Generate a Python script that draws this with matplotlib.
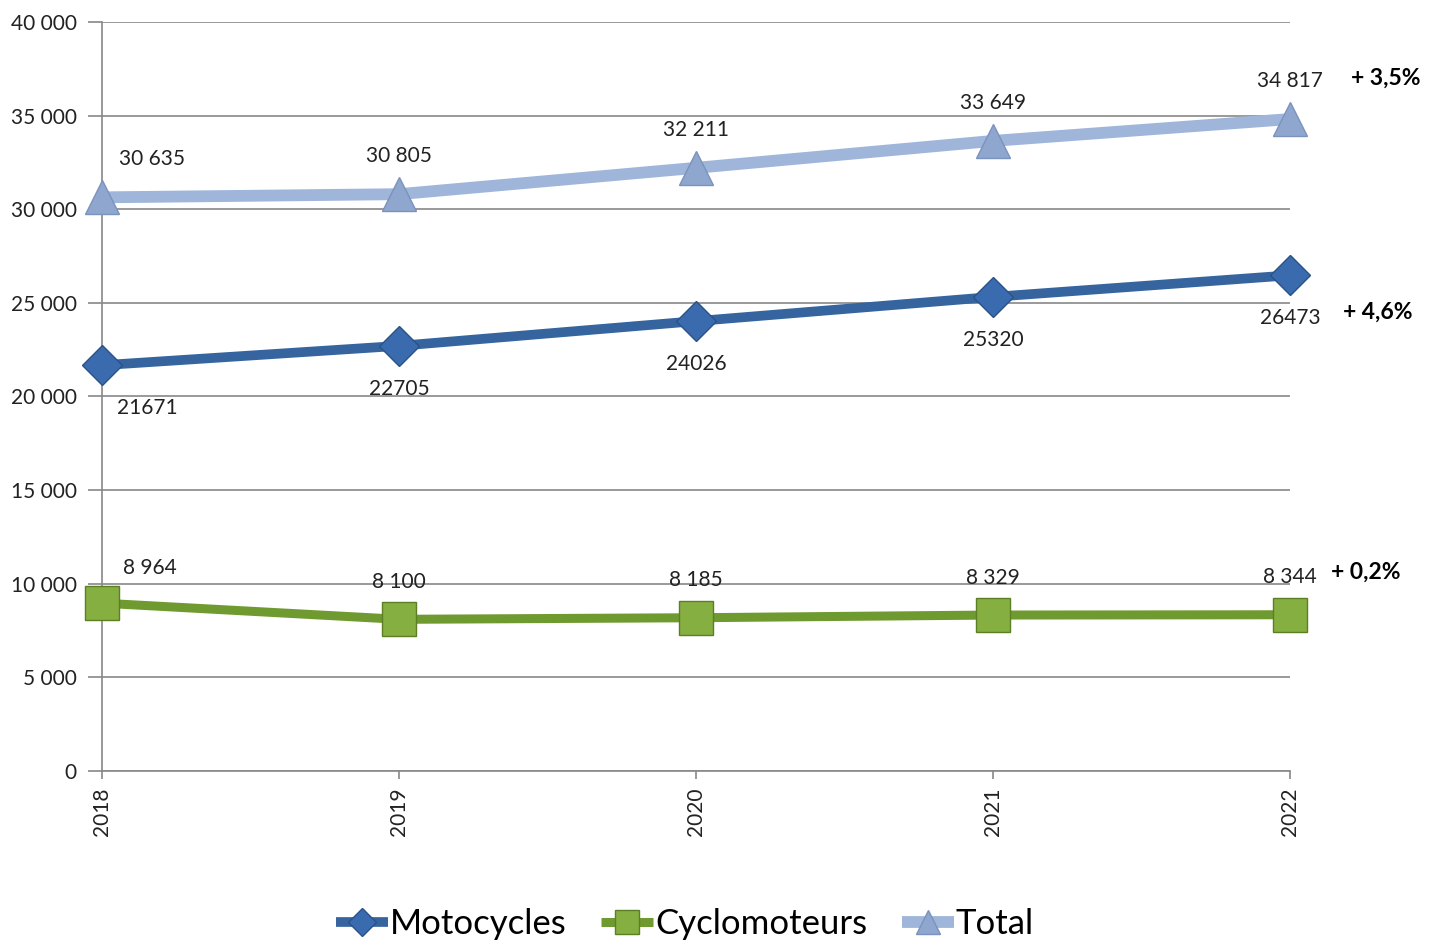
import matplotlib
matplotlib.use("Agg")
import matplotlib.pyplot as plt
from matplotlib.ticker import FuncFormatter

years = ["2018", "2019", "2020", "2021", "2022"]
motocycles = [21671, 22705, 24026, 25320, 26473]
cyclomoteurs = [8964, 8100, 8185, 8329, 8344]
total = [30635, 30805, 32211, 33649, 34817]
moto_labels = ["21671", "22705", "24026", "25320", "26473"]
cyclo_labels = ["8 964", "8 100", "8 185", "8 329", "8 344"]
total_labels = ["30 635", "30 805", "32 211", "33 649", "34 817"]
pct_labels = ["+ 3,5%", "+ 4,6%", "+ 0,2%"]

plt.rcParams['font.family'] = ['Lato', 'DejaVu Sans']

fig = plt.figure(figsize=(14.3, 9.43), dpi=100)
ax = fig.add_axes([102/1430, 1-771/943, (1290-102)/1430, (771-22)/943])

x = list(range(len(years)))

ax.plot(x, total, color="#9FB5DA", lw=8.5, marker="^", ms=24,
        mfc="#8FA7CF", mec="#7A93BC", mew=1, clip_on=False, zorder=4, label="Total",
        solid_capstyle="butt")
ax.plot(x, motocycles, color="#35649F", lw=7, marker="D", ms=20,
        mfc="#3A6BAE", mec="#2A5288", mew=1, clip_on=False, zorder=4, label="Motocycles",
        solid_capstyle="butt")
ax.plot(x, cyclomoteurs, color="#6F9A30", lw=6.5, marker="s", ms=24,
        mfc="#86AF42", mec="#5B7F22", mew=1, clip_on=False, zorder=4, label="Cyclomoteurs",
        solid_capstyle="butt")

ax.set_xlim(0, 4)
ax.set_ylim(0, 40000)
ax.set_yticks(range(0, 40001, 5000))
ax.yaxis.set_major_formatter(FuncFormatter(lambda v, p: f"{int(v):,}".replace(",", " ")))
ax.set_xticks(x)
ax.set_xticklabels(years, rotation=90)
ax.grid(axis="y", color="#888888", lw=1.2)
ax.set_axisbelow(True)
for s in ["top", "right"]:
    ax.spines[s].set_visible(False)
ax.spines["left"].set_color("#888888")
ax.spines["bottom"].set_color("#888888")
ax.spines["left"].set_linewidth(1.2)
ax.spines["bottom"].set_linewidth(1.2)
ax.tick_params(axis="y", length=10, width=1.2, color="#888888", labelsize=15, pad=8, labelcolor="#222222")
ax.tick_params(axis="x", length=6, width=1.2, color="#888888", labelsize=15, pad=6, labelcolor="#222222")

fs = 15
for i in x:
    dx = 50 if i == 0 else 0
    ax.annotate(total_labels[i], (i, total[i]), xytext=(dx*0.72, 27.5), textcoords="offset points",
                ha="center", va="center", fontsize=fs, color="#222222")
    dxm = 45 if i == 0 else 0
    ax.annotate(moto_labels[i], (i, motocycles[i]), xytext=(dxm*0.72, -31), textcoords="offset points",
                ha="center", va="center", fontsize=fs, color="#222222")
    dxc = 48 if i == 0 else 0
    dyc = 25 if i == 0 else 27
    ax.annotate(cyclo_labels[i], (i, cyclomoteurs[i]), xytext=(dxc*0.72, dyc), textcoords="offset points",
                ha="center", va="center", fontsize=fs, color="#222222")

fig.text(1386/1430, 1-78/943, pct_labels[0], ha="center", va="center", fontsize=16.5, fontweight="bold")
fig.text(1378/1430, 1-312/943, pct_labels[1], ha="center", va="center", fontsize=16.5, fontweight="bold")
fig.text(1366/1430, 1-572/943, pct_labels[2], ha="center", va="center", fontsize=16.5, fontweight="bold")

h, l = ax.get_legend_handles_labels()
order = [1, 2, 0]
leg = fig.legend([h[i] for i in order], [l[i] for i in order], loc="center",
                 bbox_to_anchor=(685/1430, 1-924/943), ncol=3, frameon=False,
                 fontsize=25, handlelength=1.5, handletextpad=0.05, columnspacing=1.0,
                 markerscale=0.7)

fig.savefig("out.png", dpi=100)
